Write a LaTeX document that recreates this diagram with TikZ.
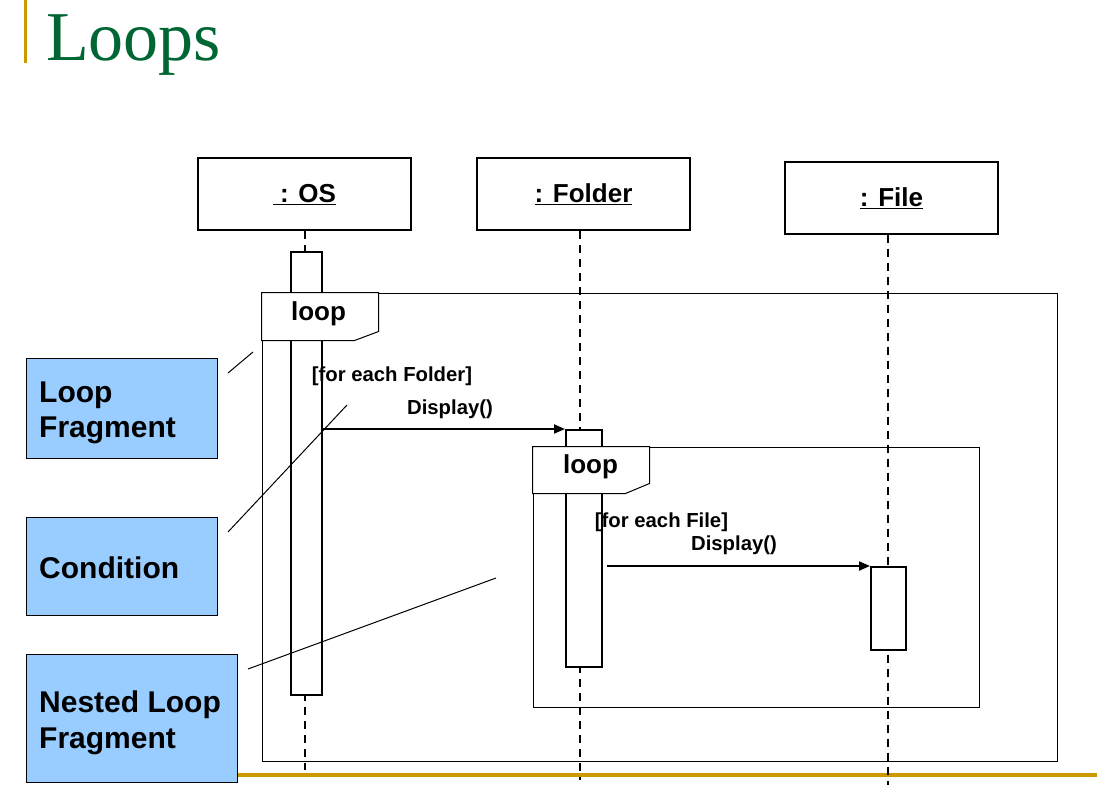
\documentclass[tikz,border=0pt]{standalone}
\usepackage{fontspec}
\setmainfont{Liberation Sans}
\newfontfamily\titlefont{Liberation Serif}
\usetikzlibrary{arrows.meta}
\definecolor{titlegreen}{HTML}{006633}
\definecolor{goldbar}{HTML}{CC9900}
\definecolor{noteblue}{HTML}{99CCFF}
\tikzset{
  headbox/.style={draw, line width=2pt, fill=white, minimum width=213pt, minimum height=72pt, inner sep=0pt},
  headtext/.style={anchor=base, inner sep=0pt, font=\bfseries\fontsize{26}{30}\selectfont},
  lifeline/.style={line width=2pt, dash pattern=on 8pt off 6pt},
  actbox/.style={draw, line width=2pt, fill=white, inner sep=0pt},
  framebox/.style={draw, line width=1pt, inner sep=0pt},
  tagshape/.style={draw, line width=1pt, fill=white},
  tagtext/.style={font=\bfseries\fontsize{26}{30}\selectfont, inner sep=0pt},
  condtext/.style={font=\bfseries\fontsize{20.3}{23}\selectfont, inner sep=0pt},
  msg/.style={line width=2pt, -{Triangle[length=11pt,width=9pt]}},
  notebox/.style={draw, line width=1pt, fill=noteblue, anchor=north west, inner sep=0pt},
  notetext/.style={anchor=north west, inner sep=0pt, align=left, font=\bfseries\fontsize{30}{35.3}\selectfont},
  annot/.style={line width=1pt}
}
\begin{document}
\begin{tikzpicture}[x=1pt,y=-1pt]
\useasboundingbox (0,0) rectangle (1097,792);
% title
\fill[goldbar] (24,0) rectangle (27,63);
\node[anchor=base west, inner sep=0pt, text=titlegreen, font=\titlefont\fontsize{70}{70}\selectfont] (title) at (46,61) {Loops};
\fill[goldbar] (238,773) rectangle (1097,777);

% heads
\node[headbox] (os) at (304.5,194) {};
\node[headtext] (ost) at (304.5,202.7) {\underline{\ : OS}};
\node[headbox] (folder) at (583.5,194) {};
\node[headtext] (foldert) at (583.5,202.7) {\underline{: Folder}};
\node[headbox] (file) at (891.5,197.5) {};
\node[headtext] (filet) at (891.5,206.2) {\underline{: File}};

% lifelines
\coordinate (osend) at (305,770);
\coordinate (folderend) at (580,780);
\coordinate (fileend) at (888,785);
\draw[lifeline] (os.south -| osend) -- (osend);
\draw[lifeline] (folder.south -| folderend) -- (folderend);
\draw[lifeline] (file.south -| fileend) -- (fileend);

% frames
\node[framebox, minimum width=795pt, minimum height=468pt] (outer) at (659.5,527) {};
\node[framebox, minimum width=446pt, minimum height=260pt] (inner) at (756,577) {};

% activations
\node[actbox, minimum width=31pt, minimum height=443pt] (osact) at (306.5,473.5) {};
\node[actbox, minimum width=36pt, minimum height=237pt] (folderact) at (584,548.5) {};
\node[actbox, minimum width=35pt, minimum height=83pt] (fileact) at (888.5,608.5) {};

% loop tags
\draw[tagshape] (outer.north west) -- ++(117,0) -- ++(0,39) -- ++(-24,9) -- ++(-93,0) -- cycle;
\node[tagtext] (tag1) at (318.5,314) {loop};
\draw[tagshape] (inner.north west) -- ++(117,0) -- ++(0,37) -- ++(-24,10) -- ++(-93,0) -- cycle;
\node[tagtext] (tag2) at (590.5,467) {loop};

% conditions and messages
\node[condtext] (cond1) at (392,376) {[for each Folder]};
\node[condtext] (disp1) at (450,409) {Display()};
\draw[msg] (osact.east |- folderact.north) -- (folderact.north west);
\node[condtext] (cond2) at (661.5,522) {[for each File]};
\node[condtext] (disp2) at (734,545) {Display()};
\draw[msg] ([xshift=4pt]folderact.east |- fileact.north) -- (fileact.north west);

% notes
\node[notebox, minimum width=191pt, minimum height=100pt] (n1) at (26,358) {};
\node[notetext] (n1t) at (39,377.5) {\strut Loop\\Fragment};
\node[notebox, minimum width=191pt, minimum height=98pt] (n2) at (26,517) {};
\node[notetext] (n2t) at (39,554) {\strut Condition};
\node[notebox, minimum width=211pt, minimum height=128pt] (n3) at (26,654) {};
\node[notetext] (n3t) at (39,688) {\strut Nested Loop\\Fragment};

% annotation lines
\coordinate (a1s) at (228,373);
\coordinate (a1e) at (253,352);
\coordinate (a2s) at (228,532);
\coordinate (a2e) at (347,405);
\coordinate (a3s) at (248,669);
\coordinate (a3e) at (496,578);
\draw[annot] (a1s) -- (a1e);
\draw[annot] (a2s) -- (a2e);
\draw[annot] (a3s) -- (a3e);
\end{tikzpicture}
\end{document}
